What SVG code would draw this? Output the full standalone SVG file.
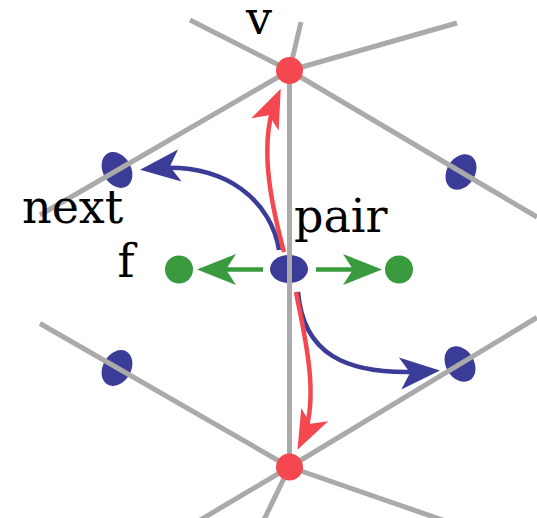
<svg xmlns="http://www.w3.org/2000/svg" width="537" height="518" viewBox="0 0 537 518">
<style>
.edge{stroke:#aaaaaa;stroke-width:5;fill:none;stroke-linecap:butt}
.blue{fill:#3b3b98}
.red{fill:#f4474f}
.green{fill:#3a9a3e}
.arr{fill:none;stroke-width:4.5}
.lbl{font-family:"DejaVu Serif",serif;font-size:46px;fill:#000}
</style>
<defs>
<marker id="hr" markerUnits="userSpaceOnUse" orient="auto" refX="0" refY="0" markerWidth="50" markerHeight="40" viewBox="-40 -20 50 40" overflow="visible"><path d="M8,0 L-31,-15 L-21,0 L-31,15 Z" fill="#f4474f"/></marker>
<marker id="hb" markerUnits="userSpaceOnUse" orient="auto" refX="0" refY="0" markerWidth="50" markerHeight="40" viewBox="-40 -20 50 40" overflow="visible"><path d="M8,0 L-32,-16 L-22,0 L-32,16 Z" fill="#3b3b98"/></marker>
<marker id="hg" markerUnits="userSpaceOnUse" orient="auto" refX="0" refY="0" markerWidth="50" markerHeight="40" viewBox="-40 -20 50 40" overflow="visible"><path d="M8,0 L-31,-15.5 L-21,0 L-31,15.5 Z" fill="#3a9a3e"/></marker>
</defs>
<rect width="537" height="518" fill="#ffffff"/>
<g id="halfedge-next" class="node"><ellipse class="blue" cx="117" cy="170" rx="14" ry="19" transform="rotate(-30 117 170)"/></g>
<g id="halfedge-upper-right" class="node"><ellipse class="blue" cx="461" cy="172" rx="14" ry="19" transform="rotate(31 461 172)"/></g>
<g id="halfedge-lower-left" class="node"><ellipse class="blue" cx="117" cy="368" rx="14" ry="19" transform="rotate(30 117 368)"/></g>
<g id="halfedge-lower-right" class="node"><ellipse class="blue" cx="460" cy="364" rx="14" ry="19" transform="rotate(-31 460 364)"/></g>
<g id="halfedge-center" class="node"><ellipse class="blue" cx="289" cy="269" rx="19" ry="14"/></g>
<g id="face-left" class="node"><circle class="green" cx="179" cy="269.5" r="14"/></g>
<g id="face-right" class="node"><circle class="green" cx="399" cy="269.5" r="14"/></g>
<g id="connectors">
<g id="edges">
<line class="edge" x1="289.5" y1="70.5" x2="190" y2="20"/>
<line class="edge" x1="289.5" y1="70.5" x2="301" y2="22"/>
<line class="edge" x1="289.5" y1="70.5" x2="457" y2="23"/>
<line class="edge" x1="289.5" y1="70.5" x2="40" y2="215"/>
<line class="edge" x1="289.5" y1="70.5" x2="537" y2="217"/>
<line class="edge" x1="289.5" y1="70.5" x2="289.5" y2="467"/>
<line class="edge" x1="289.5" y1="467" x2="40" y2="323.5"/>
<line class="edge" x1="289.5" y1="467" x2="537" y2="317.5"/>
<line class="edge" x1="289.5" y1="467" x2="480" y2="533"/>
<line class="edge" x1="289.5" y1="467" x2="180" y2="532"/>
<line class="edge" x1="289.5" y1="467" x2="258" y2="532"/>
</g>
<g id="arrows">
<path class="arr" stroke="#3b3b98" d="M279,250 C272,205 230,160 148,169" marker-end="url(#hb)"/>
<path class="arr" stroke="#3b3b98" d="M298,292 C303,350 340,378 432,371" marker-end="url(#hb)"/>
<path class="arr" stroke="#f4474f" d="M284,252 C270,200 258,140 277.5,96" marker-end="url(#hr)"/>
<path class="arr" stroke="#f4474f" d="M296,292 C303,330 322,400 301,442.5" marker-end="url(#hr)"/>
<path class="arr" stroke="#3a9a3e" d="M263,269.5 L205,269.5" marker-end="url(#hg)"/>
<path class="arr" stroke="#3a9a3e" d="M316,269.5 L374,269.5" marker-end="url(#hg)"/>
</g>
</g>
<g id="vertex-v" class="node"><circle class="red" cx="289.5" cy="70.5" r="13.5"/></g>
<g id="vertex-bottom" class="node"><circle class="red" cx="289.5" cy="467" r="13.5"/></g>
<g id="labels">
<text class="lbl" x="259" y="34" text-anchor="middle">v</text>
<text class="lbl" x="22" y="223">next</text>
<text class="lbl" x="294" y="232">pair</text>
<text class="lbl" x="126" y="277" text-anchor="middle">f</text>
</g>
</svg>
